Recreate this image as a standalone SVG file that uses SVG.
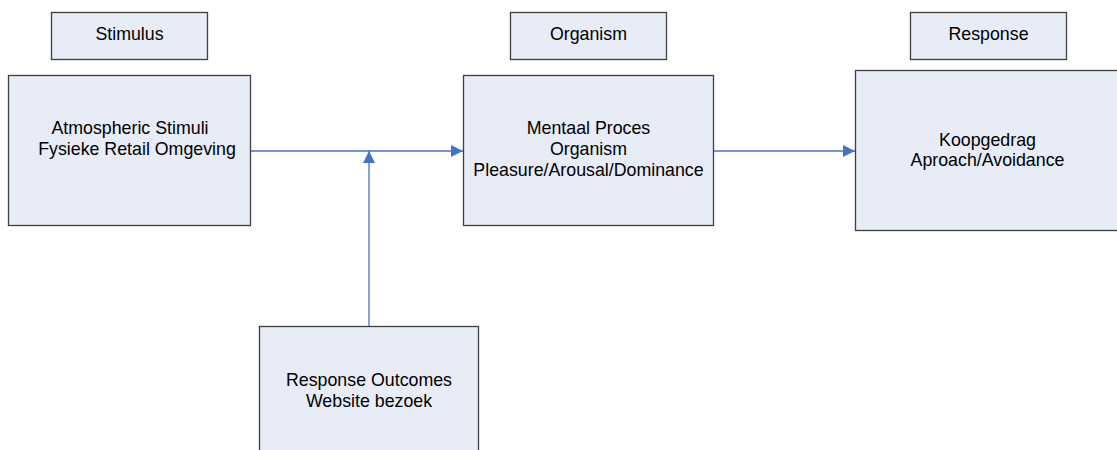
<svg xmlns="http://www.w3.org/2000/svg" width="1117" height="450" viewBox="0 0 1117 450">
<defs>
<style>
.box{fill:#E7ECF7;stroke:#3F3F3F;stroke-width:1.3}
.t{font-family:"Liberation Sans",Arial,sans-serif;font-size:17.8px;fill:#000;text-anchor:middle}
.c{stroke:#4472C4;stroke-width:1.3;fill:none}
</style>
<marker id="ah" viewBox="0 0 10 10" refX="10" refY="5" markerWidth="12" markerHeight="12" markerUnits="userSpaceOnUse" orient="auto">
<path d="M0,0 L10,5 L0,10 z" fill="#4472C4"/>
</marker>
</defs>
<rect width="1117" height="450" fill="#fff"/>
<g id="stimulus-label"><rect class="box" x="51.5" y="12.5" width="156" height="47"/><text class="t" x="129.5" y="40">Stimulus</text></g>
<g id="organism-label"><rect class="box" x="510.5" y="12.5" width="156" height="47"/><text class="t" x="588.5" y="40">Organism</text></g>
<g id="response-label"><rect class="box" x="910.5" y="12.5" width="156" height="47"/><text class="t" x="988.5" y="40">Response</text></g>
<g id="stimulus"><rect class="box" x="8.5" y="75.5" width="242" height="150"/><text class="t" x="130" y="134">Atmospheric Stimuli</text><text class="t" x="137" y="155">Fysieke Retail Omgeving</text></g>
<g id="organism"><rect class="box" x="463.5" y="75.5" width="250" height="150"/><text class="t" x="588.5" y="134">Mentaal Proces</text><text class="t" x="588.5" y="155">Organism</text><text class="t" x="588.5" y="176">Pleasure/Arousal/Dominance</text></g>
<g id="response"><rect class="box" x="855.5" y="70.5" width="264" height="160"/><text class="t" x="987.5" y="146">Koopgedrag</text><text class="t" x="987.5" y="166">Aproach/Avoidance</text></g>
<g id="outcomes"><rect class="box" x="259.5" y="326.5" width="219" height="130"/><text class="t" x="369" y="386">Response Outcomes</text><text class="t" x="369" y="407">Website bezoek</text></g>
<g id="connectors">
<line class="c" x1="251" y1="151" x2="463" y2="151" marker-end="url(#ah)"/>
<line class="c" x1="369" y1="326" x2="369" y2="151" marker-end="url(#ah)"/>
<line class="c" x1="714" y1="151" x2="855" y2="151" marker-end="url(#ah)"/>
</g>
</svg>
